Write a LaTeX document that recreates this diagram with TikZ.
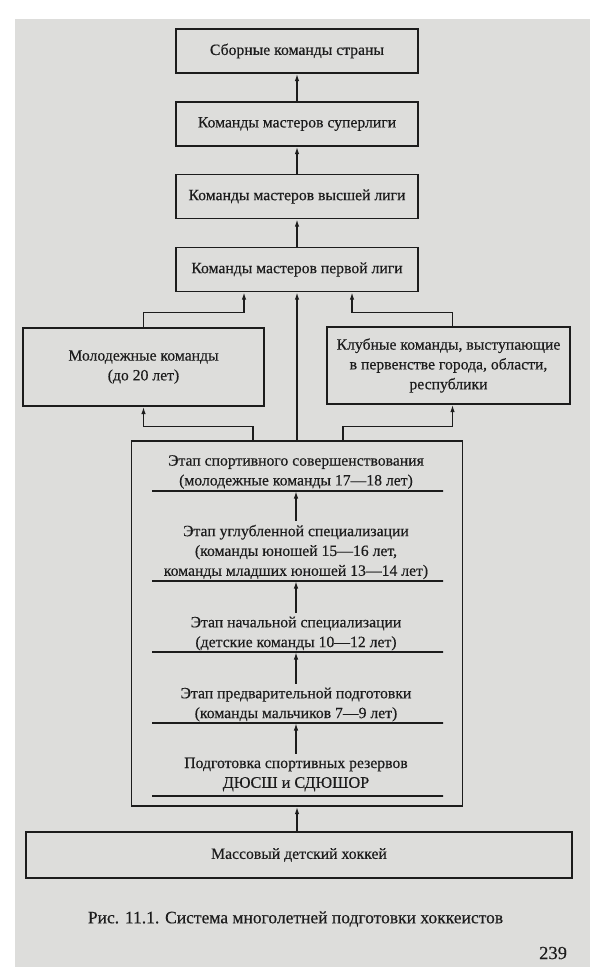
\documentclass[tikz,border=0pt]{standalone}
\usepackage{fontspec}
\setmainfont{Liberation Serif}[FakeBold = 0.35]
\usetikzlibrary{arrows.meta}
\definecolor{pagegray}{RGB}{221,221,219}
\definecolor{ink}{RGB}{28,28,28}

\begin{document}
\begin{tikzpicture}[x = 1pt, y = -1pt, line width = 1.4pt, color = ink,
								box/.style = {draw, minimum width = 242pt, minimum height = 44pt,
								inner sep = 0pt, align = center, font = \fontsize{15.7}{19.8}\selectfont},
								side/.style = {box, minimum height = 78pt},
								stage/.style = {align = center, inner sep = 0pt, outer sep = 4pt,
								font = \fontsize{15.7}{19.8}\selectfont},
								divider/.style = {draw, minimum width = 291pt, minimum height = 0pt,
								inner sep = 0pt, outer sep = 0pt},
								arr/.style = {-{Latex[length = 7.5pt, width = 4.5pt]}}]

				\useasboundingbox (0,0) rectangle (602,979);
				\fill [white] (0,0) rectangle (602,979);
				\fill [pagegray] (15,19) rectangle (590,967);

				% teams of masters
				\node [box] (top_1) at (297,51) {Сборные команды страны};
				\node [box] (top_2) at (297,124) {Команды мастеров суперлиги};
				\node [box] (top_3) at (297,196.5) {Команды мастеров высшей лиги};
				\node [box] (top_4) at (297,269.5) {Команды мастеров первой лиги};

				\draw [arr] (top_2) -- (top_1);
				\draw [arr] (top_3) -- (top_2);
				\draw [arr] (top_4) -- (top_3);

				\node [side, minimum width = 241pt] (side_l) at (143.5,367)
				{Молодежные команды\\(до 20 лет)};
				\node [side, minimum width = 243pt, minimum height = 77pt] (side_r) at (448.5,365.5)
				{Клубные команды, выступающие\\в первенстве города, области,\\республики};

				\draw [arr] (side_l.north) -- ++(0,-15) -| ([xshift = -53pt]top_4.south);
				\draw [arr] ([xshift = 4pt]side_r.north) -- ++(0,-14) -| ([xshift = 55pt]top_4.south);

				% stages of the sports school
				\node [draw, minimum width = 331pt, minimum height = 365pt] (stages) at (297,623.5) {};

				\draw [arr] (stages.north) -- (stages.north |- top_4.south);
				\draw [arr] ([xshift = -44pt]stages.north) -- ++(0,-14) -| (side_l.south);
				\draw [arr] ([xshift = 46pt]stages.north) -- ++(0,-14) -| ([xshift = 4pt]side_r.south);

				\node [stage] (s_1) at (296,472)
				{Этап спортивного совершенствования\\(молодежные команды 17—18 лет)};
				\node [stage] (s_2) at (296,552)
				{Этап углубленной специализации\\(команды юношей 15—16 лет,\\команды младших юношей 13—14 лет)};
				\node [stage] (s_3) at (296,633.5)
				{Этап начальной специализации\\(детские команды 10—12 лет)};
				\node [stage] (s_4) at (296,704.5)
				{Этап предварительной подготовки\\(команды мальчиков 7—9 лет)};
				\node [stage] (s_5) at (296,774.5)
				{Подготовка спортивных резервов\\{\fontsize{16.2}{19.8}\selectfont ДЮСШ и СДЮШОР}};

				\node [divider] (d_1) at (297.5,491) {};
				\node [divider] (d_2) at (297.5,581) {};
				\node [divider] (d_3) at (297.5,652) {};
				\node [divider] (d_4) at (297.5,723) {};
				\node [divider] (d_5) at (297.5,796) {};

				\draw [arr] (s_2.north) -- (s_2.north |- d_1);
				\draw [arr] (s_3.north) -- (s_3.north |- d_2);
				\draw [arr] (s_4.north) -- (s_4.north |- d_3);
				\draw [arr] (s_5.north) -- (s_5.north |- d_4);

				\node [box, minimum width = 546pt, minimum height = 46pt] (mass) at (299,855)
				{Массовый детский хоккей};

				\draw [arr] (stages.south |- mass.north) -- (stages.south);

				\node [font = \fontsize{17.5}{21}\selectfont] (caption) at (295.5,919)
				{Рис. 11.1. Система многолетней подготовки хоккеистов};
				\node [anchor = east, font = \fontsize{18.5}{18.5}\selectfont] (page) at (571,953) {239};
			\end{tikzpicture}
\end{document}
